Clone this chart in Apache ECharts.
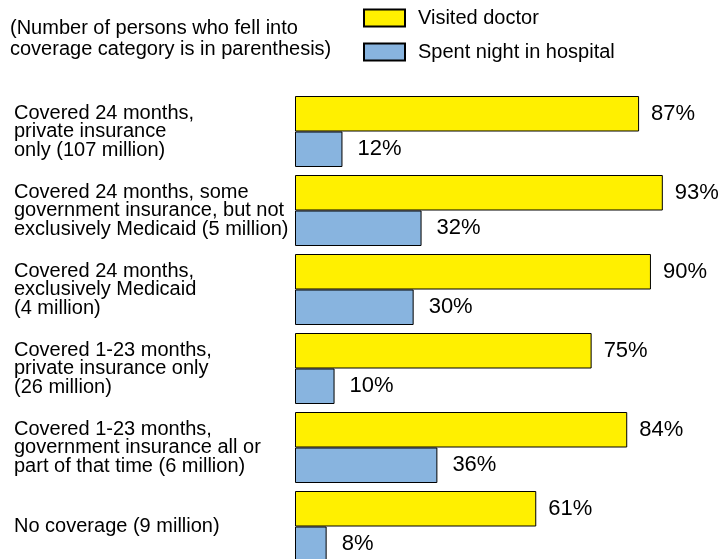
<!DOCTYPE html>
<html>
<head>
<meta charset="utf-8">
<script src="https://cdn.jsdelivr.net/npm/echarts@6/dist/echarts.min.js"></script>
<style>
html,body{margin:0;padding:0;background:#fff;overflow:hidden;}
#c{width:722px;height:566px;}
</style>
</head>
<body>
<div id="c"></div>
<script>
var categories = [
  "Covered 24 months,\nprivate insurance\nonly (107 million)",
  "Covered 24 months, some\ngovernment insurance, but not\nexclusively Medicaid (5 million)",
  "Covered 24 months,\nexclusively Medicaid\n(4 million)",
  "Covered 1-23 months,\nprivate insurance only\n(26 million)",
  "Covered 1-23 months,\ngovernment insurance all or\npart of that time (6 million)",
  "No coverage (9 million)"
];
var visitedDoctor = [87, 93, 90, 75, 84, 61];
var spentNight = [12, 32, 30, 10, 36, 8];
var seriesNames = ["Visited doctor", "Spent night in hospital"];
var headerText = "(Number of persons who fell into\ncoverage category is in parenthesis)";

var FONT = "Liberation Sans, Arial, Helvetica, sans-serif";
var chart = echarts.init(document.getElementById('c'), null, {renderer: 'canvas'});
chart.setOption({
  animation: false,
  backgroundColor: '#ffffff',
  textStyle: {fontFamily: FONT, color: '#000'},
  title: {
    text: headerText,
    left: 10, top: 18,
    padding: 0,
    textStyle: {fontFamily: FONT, fontSize: 20, fontWeight: 'normal', color: '#000', lineHeight: 21}
  },
  legend: {
    orient: 'vertical',
    left: 363, top: 8,
    padding: 0,
    itemWidth: 41, itemHeight: 17,
    itemGap: 14,
    icon: 'rect',
    data: seriesNames,
    textStyle: {fontFamily: FONT, fontSize: 20, color: '#000', padding: [0, 0, 0, 8]}
  },
  grid: {left: 295, top: 92, width: 395.5, height: 474, containLabel: false},
  xAxis: {
    type: 'value', min: 0, max: 100, show: false
  },
  yAxis: {
    type: 'category',
    inverse: true,
    data: categories,
    axisLine: {show: false},
    axisTick: {show: false},
    splitLine: {show: false},
    axisLabel: {
      align: 'left',
      margin: 281,
      fontFamily: FONT,
      fontSize: 20,
      lineHeight: 18.5,
      padding: [2, 0, 0, 0],
      color: '#000'
    }
  },
  series: [
    {
      name: seriesNames[0],
      type: 'bar',
      data: visitedDoctor,
      barWidth: 35.5,
      barGap: '0%',
      itemStyle: {color: '#FFF000', borderColor: '#000', borderWidth: 1},
      label: {
        show: true, position: 'right', distance: 12,
        formatter: '{c}%', fontFamily: FONT, fontSize: 22, color: '#000'
      }
    },
    {
      name: seriesNames[1],
      type: 'bar',
      data: spentNight,
      barWidth: 35.5,
      barGap: '0%',
      itemStyle: {color: '#88B4DF', borderColor: '#000', borderWidth: 1},
      label: {
        show: true, position: 'right', distance: 15,
        formatter: '{c}%', fontFamily: FONT, fontSize: 22, color: '#000'
      }
    }
  ]
});
</script>
</body>
</html>
